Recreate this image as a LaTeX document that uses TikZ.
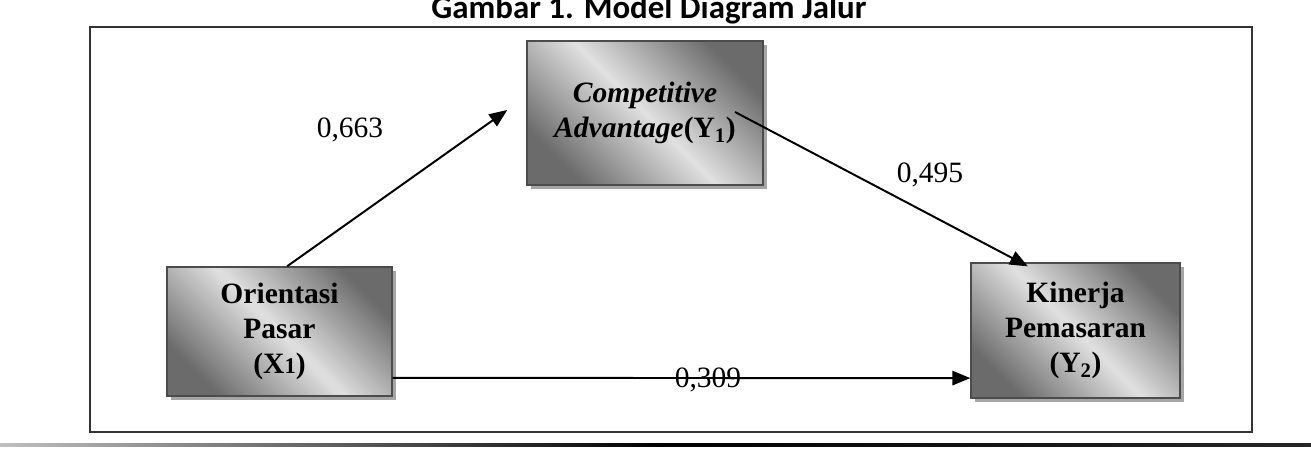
\documentclass[tikz,border=0pt]{standalone}
\usepackage{fontspec}
\setmainfont{Liberation Serif}
\newfontfamily\titlefont{Carlito}
\usetikzlibrary{arrows.meta,shadows,calc}

\begin{document}
\begin{tikzpicture}[font=\fontsize{21}{25}\selectfont, >={Triangle[length=0.45cm,width=0.36cm]},
  varbox/.style={draw=black!70, line width=1pt, align=center, font=\fontsize{21}{25}\selectfont\bfseries,
    top color=black!58, bottom color=black!58, middle color=black!12, shading angle=-45,
    drop shadow={shadow xshift=0.1cm, shadow yshift=-0.1cm, fill=black!35, opacity=1}},
  path/.style={->, line width=1.4pt},
  coef/.style={inner sep=0pt}]
\useasboundingbox (0,0) rectangle (32.775,11.2);
\clip (0,0) rectangle (32.775,11.2);
\node[anchor=base, font=\titlefont\fontsize{23.4}{27}\selectfont\bfseries] (title) at (16.225,10.74) {Gambar 1. Model Diagram Jalur};
\draw[line width=1.3pt, black!80] (2.25,0.4) rectangle (31.3,10.525);
\shade[left color=black!25, right color=black!85, middle color=black] (0,0.04) rectangle (32.775,0.11);
\node[varbox, minimum width=5.9cm, minimum height=3.6cm] (comp) at (16.125,8.375)
  {\textit{Competitive}\\\textit{Advantage}(Y$_{\mathbf 1}$)};
\node[varbox, minimum width=5.625cm, minimum height=3.225cm] (orient) at (6.9875,2.9125)
  {Orientasi\\Pasar\\(X{\fontsize{16}{16}\selectfont 1})};
\node[varbox, minimum width=5.225cm, minimum height=3.375cm] (kinerja) at (26.8875,2.9375)
  {Kinerja\\Pemasaran\\(Y$_{\mathbf 2}$)};
\coordinate (end1) at ($(comp.west)+(-0.475,0.075)$);
\draw[path] ($(orient.north)+(0.19,0)$) -- (end1);
\draw[path] ($(comp.center)+(2.25,0.025)$) -- ($(kinerja.north)+(-1.19,-0.1)$);
\draw[path] ($(orient.east)+(0,-1.16)$) -- ($(kinerja.west)+(0,-1.19)$);
\node[coef] (c1) at (8.75,7.95) {0,663};
\node[coef] (c2) at (23.25,6.825) {0,495};
\node[coef] (c3) at (17.7,1.7) {0,309};
\end{tikzpicture}
\end{document}
